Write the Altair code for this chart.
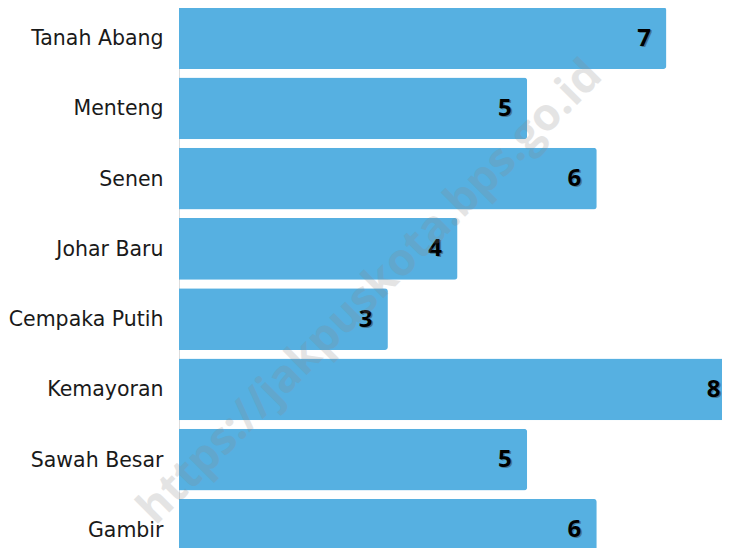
import altair as alt
import pandas as pd

kecamatan = ["Tanah Abang", "Menteng", "Senen", "Johar Baru", "Cempaka Putih",
             "Kemayoran", "Sawah Besar", "Gambir"]
nilai = [7, 5, 6, 4, 3, 8, 5, 6]
watermark = "https://jakpuskota.bps.go.id"

df = pd.DataFrame({"kecamatan": kecamatan, "nilai": nilai})

y_enc = alt.Y("kecamatan:N", sort=kecamatan,
              scale=alt.Scale(paddingInner=0.12, paddingOuter=0.06),
              axis=alt.Axis(title=None, ticks=False, domain=False, labelPadding=16,
                            labelFont="DejaVu Sans", labelFontSize=20.5,
                            labelColor="#1a1a1a", labelLimit=200, labelOffset=1))
x_enc = alt.X("nilai:Q", scale=alt.Scale(domain=[0, 8], nice=False),
              axis=None)

base = alt.Chart(df)

bars = base.mark_bar(color="#56B0E1", cornerRadiusEnd=3).encode(x=x_enc, y=y_enc)

shadow = base.mark_text(align="right", baseline="middle", dx=-14, dy=1.5,
                        font="Open Sans", fontWeight="bold", fontSize=24,
                        color="#333333", opacity=0.45).encode(
    x=x_enc, y=y_enc, text=alt.Text("nilai:Q"))

labels = base.mark_text(align="right", baseline="middle", dx=-15.5, dy=0.5,
                        font="Open Sans", fontWeight="bold", fontSize=24,
                        color="#000000").encode(
    x=x_enc, y=y_enc, text=alt.Text("nilai:Q"))

wm_df = pd.DataFrame({"t": [watermark]})
wm = alt.Chart(wm_df).mark_text(align="center", baseline="middle", angle=315,
                                font="Open Sans", fontWeight="bold", fontSize=45,
                                color="#888888", opacity=0.22).encode(
    x=alt.value(191), y=alt.value(289), text="t:N")

chart = alt.layer(bars, shadow, labels, wm).properties(
    width=557, height=562,
    autosize=alt.AutoSizeParams(type="none"),
    padding={"left": 171, "top": -5, "right": -14, "bottom": -17},
).configure_view(stroke=None).configure(background="white")

chart.save("out.html", embed_options={"renderer": "svg", "actions": False})
